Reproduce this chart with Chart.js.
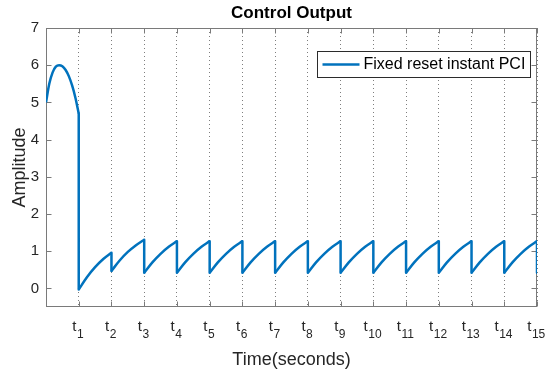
<!DOCTYPE html>
<html>
<head>
<meta charset="utf-8">
<title>Control Output</title>
<script src="https://cdn.jsdelivr.net/npm/chart.js@4.4.1/dist/chart.umd.min.js"></script>
<style>
  html, body { margin: 0; padding: 0; background: #ffffff; }
  canvas { display: block; }
</style>
</head>
<body>
<canvas id="chart" width="547" height="372"></canvas>
<script>
// ---- text ----
const chartTitle = 'Control Output';
const xAxisTitle = 'Time(seconds)';
const yAxisTitle = 'Amplitude';
const seriesLabel = 'Fixed reset instant PCI';

// ---- axes ----
const xRange = [0, 15];
const yRange = [-0.5, 7];
const yTickValues = [0, 1, 2, 3, 4, 5, 6, 7];
const xTickValues = [1, 2, 3, 4, 5, 6, 7, 8, 9, 10, 11, 12, 13, 14, 15];
const xTickBase = 't';
const xTickSubs = ['1', '2', '3', '4', '5', '6', '7', '8', '9', '10', '11', '12', '13', '14', '15'];

// ---- series ----
// transient before the first reset instant
const startTimes  = [0, 0.1, 0.2, 0.3, 0.4, 0.5, 0.6, 0.7, 0.8, 0.9, 1.0];
const startValues = [5.0, 5.5, 5.8, 5.96, 6.0, 5.97, 5.87, 5.7, 5.45, 5.12, 4.7];

// ramps between consecutive reset instants, sampled at quarter steps
const rampPhases = [0, 0.25, 0.5, 0.75, 1];
const rampValues = [
  [-0.03, 0.30, 0.57, 0.79, 0.96],
  [0.47, 0.75, 0.98, 1.16, 1.31],
  [0.42, 0.70, 0.93, 1.12, 1.27],
  [0.42, 0.70, 0.93, 1.12, 1.27],
  [0.42, 0.70, 0.93, 1.12, 1.27],
  [0.42, 0.70, 0.93, 1.12, 1.27],
  [0.42, 0.70, 0.93, 1.12, 1.27],
  [0.42, 0.70, 0.93, 1.12, 1.27],
  [0.42, 0.70, 0.93, 1.12, 1.27],
  [0.42, 0.70, 0.93, 1.12, 1.27],
  [0.42, 0.70, 0.93, 1.12, 1.27],
  [0.42, 0.70, 0.93, 1.12, 1.27],
  [0.42, 0.70, 0.93, 1.12, 1.27],
  [0.42, 0.70, 0.93, 1.12, 1.27]
];
const finalResetValue = 0.42;

// ---- styling ----
const FONT = '"Liberation Sans", Arial, Helvetica, sans-serif';
const LINE_COLOR = '#0072BD';
const TEXT_COLOR = '#262626';
const AXIS_COLOR = '#7a7a7a';

// smooth parts of the response, broken at every reset instant
const smoothPoints = startTimes.map((t, i) => ({ x: t, y: startValues[i] }));
smoothPoints.push({ x: xTickValues[0], y: null });
rampValues.forEach((vals, k) => {
  const t0 = xTickValues[k];
  rampPhases.forEach((p, j) => smoothPoints.push({ x: t0 + p, y: vals[j] }));
  smoothPoints.push({ x: t0 + 1, y: null });
});

// vertical jumps at the reset instants
const segmentEnds = [startValues[startValues.length - 1]].concat(rampValues.map(v => v[v.length - 1]));
const segmentStarts = rampValues.map(v => v[0]).concat([finalResetValue]);
const resetPoints = [];
xTickValues.forEach((t, k) => {
  resetPoints.push({ x: t, y: segmentEnds[k] }, { x: t, y: segmentStarts[k] }, { x: t, y: null });
});

// axes box with inward tick marks on all four sides
const framePlugin = {
  id: 'frame',
  beforeDatasetsDraw(chart) {
    const { ctx, chartArea: a, scales } = chart;
    const L = Math.round(a.left) + 0.5, R = Math.round(a.right) - 0.5;
    const T = Math.round(a.top) + 0.5, B = Math.round(a.bottom) - 0.5;
    const tickLen = 5;
    ctx.save();
    ctx.strokeStyle = AXIS_COLOR;
    ctx.lineWidth = 1;
    ctx.setLineDash([]);
    ctx.strokeRect(L, T, R - L, B - T);
    ctx.beginPath();
    yTickValues.forEach(v => {
      const y = Math.round(scales.y.getPixelForValue(v)) + 0.5;
      ctx.moveTo(L, y); ctx.lineTo(L + tickLen, y);
      ctx.moveTo(R, y); ctx.lineTo(R - tickLen, y);
    });
    xTickValues.forEach(v => {
      const x = Math.round(scales.x.getPixelForValue(v)) + 0.5;
      ctx.moveTo(x, B); ctx.lineTo(x, B - tickLen);
      ctx.moveTo(x, T); ctx.lineTo(x, T + tickLen);
    });
    ctx.stroke();
    ctx.restore();
  },
  afterDraw(chart) {
    const { ctx, chartArea: a, scales } = chart;
    const cx = (a.left + a.right) / 2;
    ctx.save();

    // title
    ctx.fillStyle = '#000000';
    ctx.font = 'bold 17px ' + FONT;
    ctx.textAlign = 'center';
    ctx.textBaseline = 'alphabetic';
    ctx.fillText(chartTitle, cx, 17.5);

    // x tick labels: base letter with a numeric subscript
    ctx.fillStyle = TEXT_COLOR;
    ctx.textAlign = 'left';
    xTickValues.forEach((v, k) => {
      const px = scales.x.getPixelForValue(v);
      ctx.font = '15px ' + FONT;
      const wb = ctx.measureText(xTickBase).width;
      ctx.font = '12px ' + FONT;
      const ws = ctx.measureText(xTickSubs[k]).width;
      const x0 = px - (wb + ws) / 2 - 1;
      ctx.font = '15px ' + FONT;
      ctx.fillText(xTickBase, x0, a.bottom + 24);
      ctx.font = '12px ' + FONT;
      ctx.fillText(xTickSubs[k], x0 + wb + 0.5, a.bottom + 30.5);
    });

    // axis titles
    ctx.font = '18px ' + FONT;
    ctx.textAlign = 'center';
    ctx.fillText(xAxisTitle, cx, 364.5);
    ctx.save();
    ctx.translate(24.5, (a.top + a.bottom) / 2);
    ctx.rotate(-Math.PI / 2);
    ctx.fillText(yAxisTitle, 0, 0);
    ctx.restore();

    // legend
    const lx = 317.5, ly = 51.5, lw = 213, lh = 26;
    ctx.fillStyle = '#ffffff';
    ctx.fillRect(lx, ly, lw, lh);
    ctx.strokeStyle = '#2b2b2b';
    ctx.lineWidth = 1;
    ctx.strokeRect(lx, ly, lw, lh);
    const my = ly + lh / 2;
    ctx.strokeStyle = LINE_COLOR;
    ctx.lineWidth = 2.5;
    ctx.beginPath();
    ctx.moveTo(lx + 5, my);
    ctx.lineTo(lx + 42, my);
    ctx.stroke();
    ctx.fillStyle = '#000000';
    ctx.font = '16px ' + FONT;
    ctx.textAlign = 'left';
    ctx.textBaseline = 'middle';
    ctx.fillText(chart.data.datasets[0].label, lx + 46, my + 0.5);

    ctx.restore();
  }
};

new Chart(document.getElementById('chart'), {
  type: 'line',
  data: {
    datasets: [
      {
        label: seriesLabel,
        data: smoothPoints,
        borderColor: LINE_COLOR,
        borderWidth: 2.5,
        pointRadius: 0,
        fill: false,
        cubicInterpolationMode: 'monotone',
        spanGaps: false
      },
      {
        label: seriesLabel,
        data: resetPoints,
        borderColor: LINE_COLOR,
        borderWidth: 2.5,
        borderCapStyle: 'round',
        pointRadius: 0,
        fill: false,
        tension: 0,
        spanGaps: false
      }
    ]
  },
  options: {
    responsive: false,
    devicePixelRatio: 1,
    animation: false,
    layout: { padding: { top: 28, right: 10, bottom: 0, left: 0 } },
    plugins: {
      legend: { display: false },
      title: { display: false },
      tooltip: { enabled: false }
    },
    scales: {
      x: {
        type: 'linear',
        min: xRange[0],
        max: xRange[1],
        afterBuildTicks: s => { s.ticks = xTickValues.map(v => ({ value: v })); },
        afterFit: s => { s.height = 65; },
        ticks: { display: false },
        grid: { display: true, drawTicks: false, drawOnChartArea: true, color: 'rgba(40,40,40,0.6)', lineWidth: 1 },
        border: { display: false, dash: [1, 3] }
      },
      y: {
        type: 'linear',
        min: yRange[0],
        max: yRange[1],
        afterBuildTicks: s => { s.ticks = yTickValues.map(v => ({ value: v })); },
        afterFit: s => { s.width = 46; },
        ticks: { font: { size: 15, family: FONT }, color: TEXT_COLOR, padding: 7 },
        grid: { display: false, drawTicks: false },
        border: { display: false }
      }
    }
  },
  plugins: [framePlugin]
});
</script>
</body>
</html>
